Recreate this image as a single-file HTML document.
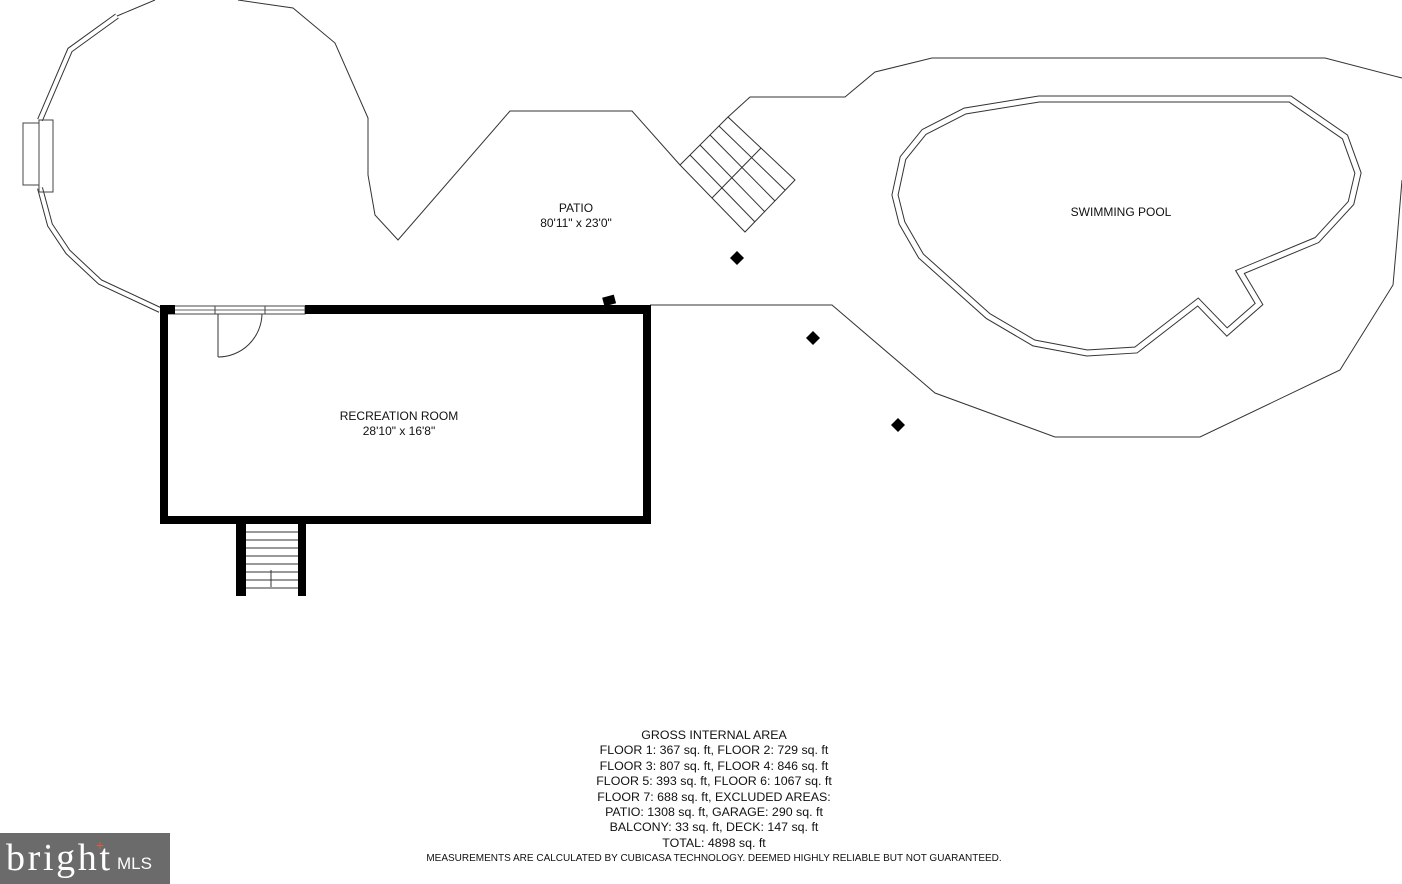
<!DOCTYPE html>
<html><head><meta charset="utf-8"><style>
html,body{margin:0;padding:0;background:#fff;}
body{width:1402px;height:884px;position:relative;overflow:hidden;font-family:"Liberation Sans",sans-serif;}
.t{position:absolute;text-align:center;color:#111;}
</style></head><body>
<svg width="1402" height="884" style="position:absolute;left:0;top:0" xmlns="http://www.w3.org/2000/svg">
<g fill="none" stroke-linejoin="miter">
<g>
<polyline points="117,16 70,50 40,120" stroke="#333" stroke-width="6"/>
<polyline points="117,16 70,50 40,120" stroke="#fff" stroke-width="4"/>
<polyline points="40,188 50,225 68,252 100,282 160,310" stroke="#333" stroke-width="6"/>
<polyline points="40,188 50,225 68,252 100,282 160,310" stroke="#fff" stroke-width="4"/>
</g>
<rect x="23" y="123" width="16" height="62" stroke="#444" stroke-width="1"/>
<rect x="39" y="120" width="14" height="72" stroke="#444" stroke-width="1"/>
<polyline points="117,16 155,0" stroke="#333" stroke-width="1"/>
<polyline points="238,0 293,8 335,43 368,118 368,175 375,215 398,240 510,111 632,111 680,165" stroke="#333" stroke-width="1"/>
<polyline points="728,117 750,97 845,97 875,72 932,58 1325,58 1402,78" stroke="#333" stroke-width="1"/>
<polyline points="1397,240 1393,285 1340,370 1200,437 1055,437 935,393 832,305 650,305" stroke="#333" stroke-width="1"/>
<polyline points="1402,180 1397,240" stroke="#333" stroke-width="1"/>
<polygon points="680,165 728,117 795,180 745,232" stroke="#333" stroke-width="1"/>
<g stroke="#333" stroke-width="1">
<line x1="690" y1="155" x2="755" y2="222"/>
<line x1="700" y1="145" x2="765" y2="212"/>
<line x1="710" y1="135" x2="775" y2="201"/>
<line x1="719" y1="126" x2="785" y2="190"/>
<line x1="712" y1="198" x2="761" y2="148"/>
</g>
<polygon points="1039,99 1290,99 1345,137 1358,173 1351,203 1317,240 1240,272 1259,304 1227,332 1198,302 1136,350 1087,353 1034,343 988,316 921,256 902,223 895,195 903,158 924,132 965,111" stroke="#333" stroke-width="7"/>
<polygon points="1039,99 1290,99 1345,137 1358,173 1351,203 1317,240 1240,272 1259,304 1227,332 1198,302 1136,350 1087,353 1034,343 988,316 921,256 902,223 895,195 903,158 924,132 965,111" stroke="#fff" stroke-width="5"/>
<rect x="166" y="306" width="139" height="8" stroke="#444" stroke-width="1"/>
<line x1="166" y1="310" x2="305" y2="310" stroke="#666" stroke-width="1"/>
<line x1="215" y1="306" x2="215" y2="314" stroke="#444"/>
<line x1="265" y1="306" x2="265" y2="314" stroke="#444"/>
<line x1="218" y1="314" x2="218" y2="357" stroke="#333"/>
<path d="M218,357 A44,44 0 0 0 262,314" stroke="#333"/>
</g>
<g fill="#000">
<rect x="160" y="305" width="8" height="219"/>
<rect x="160" y="305" width="15" height="9"/>
<rect x="305" y="305" width="346" height="9"/>
<rect x="643" y="305" width="8" height="219"/>
<rect x="160" y="516" width="491" height="8"/>
<rect x="236" y="516" width="10" height="80"/>
<rect x="298" y="516" width="8" height="80"/>
<rect x="603" y="296" width="12" height="9" transform="rotate(-15 609 300)"/>
<polygon points="737,251 744,258 737,265 730,258"/>
<polygon points="813,331 820,338 813,345 806,338"/>
<polygon points="898,418 905,425 898,432 891,425"/>
</g>
<g stroke="#333" stroke-width="1">
<line x1="246" y1="532" x2="298" y2="532"/>
<line x1="246" y1="540" x2="298" y2="540"/>
<line x1="246" y1="548" x2="298" y2="548"/>
<line x1="246" y1="556" x2="298" y2="556"/>
<line x1="246" y1="564" x2="298" y2="564"/>
<line x1="246" y1="572" x2="298" y2="572"/>
<line x1="246" y1="580" x2="298" y2="580"/>
<line x1="246" y1="588" x2="298" y2="588"/>
<line x1="271" y1="570" x2="271" y2="587"/>
</g>
<rect x="0" y="833" width="170" height="51" fill="#6b6b6b"/>
<text x="6" y="870" font-family="Liberation Serif,serif" font-size="38" fill="#fff" textLength="104">bright</text>
<text x="117" y="869" font-family="Liberation Sans,sans-serif" font-size="17" fill="#fff">MLS</text>
<text x="96" y="850" font-size="14" fill="#e05a3a" font-family="Liberation Sans,sans-serif">+</text>
</svg>
<div class="t" style="left:476px;top:201px;width:200px;font-size:12px;line-height:15px">PATIO<br>80'11" x 23'0"</div>
<div class="t" style="left:1021px;top:205px;width:200px;font-size:12px">SWIMMING POOL</div>
<div class="t" style="left:299px;top:409px;width:200px;font-size:12px;line-height:15px">RECREATION ROOM<br>28'10" x 16'8"</div>
<div class="t" style="left:364px;top:728px;width:700px;font-size:12.4px;line-height:15.4px">GROSS INTERNAL AREA<br>FLOOR 1: 367 sq. ft, FLOOR 2: 729 sq. ft<br>FLOOR 3: 807 sq. ft, FLOOR 4: 846 sq. ft<br>FLOOR 5: 393 sq. ft, FLOOR 6: 1067 sq. ft<br>FLOOR 7: 688 sq. ft, EXCLUDED AREAS:<br>PATIO: 1308 sq. ft, GARAGE: 290 sq. ft<br>BALCONY: 33 sq. ft, DECK: 147 sq. ft<br>TOTAL: 4898 sq. ft</div>
<div class="t" style="left:314px;top:853px;width:800px;font-size:10px">MEASUREMENTS ARE CALCULATED BY CUBICASA TECHNOLOGY. DEEMED HIGHLY RELIABLE BUT NOT GUARANTEED.</div>
</body></html>
